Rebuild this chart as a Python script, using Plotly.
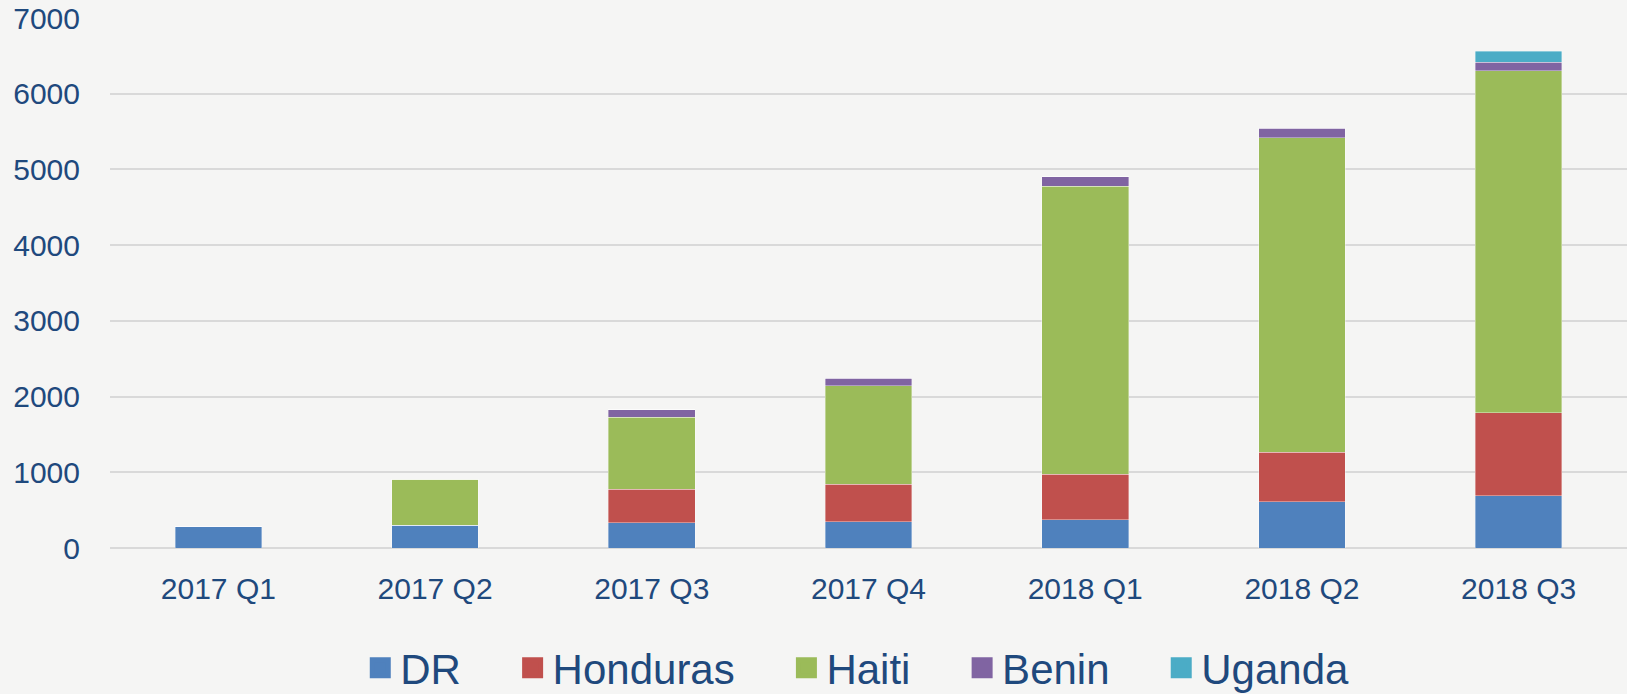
import plotly.graph_objects as go

categories = ["2017 Q1", "2017 Q2", "2017 Q3", "2017 Q4", "2018 Q1", "2018 Q2", "2018 Q3"]
dr = [290, 300, 335, 345, 375, 612, 690]
honduras = [0, 0, 440, 497, 600, 652, 1094]
haiti = [0, 605, 952, 1300, 3806, 4157, 4518]
benin = [0, 0, 97, 100, 124, 121, 112]
uganda = [0, 0, 0, 0, 0, 0, 147]

series_names = ["DR", "Honduras", "Haiti", "Benin", "Uganda"]
series_values = [dr, honduras, haiti, benin, uganda]
colors = ["#4F81BD", "#C0504D", "#9BBB59", "#8064A2", "#4BACC6"]

TEXT = "#1F497D"
FONT = "Liberation Sans, Arial, sans-serif"
PAD = "\u00a0" * 4

fig = go.Figure()
for name, vals, col in zip(series_names, series_values, colors):
    fig.add_trace(go.Bar(
        x=categories, y=vals, name=name,
        marker=dict(color=col, line=dict(width=0.6, color="rgba(255,255,255,0.6)")),
        showlegend=False, legendgroup=name,
    ))
for i, (name, col) in enumerate(zip(series_names, colors)):
    fig.add_trace(go.Scatter(
        x=[None], y=[None], mode="markers", name=name + (PAD if i < len(series_names) - 1 else ""),
        marker=dict(symbol="square", size=16, color=col, line=dict(width=5, color=col)),
        legendgroup=name, showlegend=True,
    ))

fig.update_layout(
    width=1627, height=694,
    barmode="stack", bargap=0.6,
    paper_bgcolor="#f5f5f4", plot_bgcolor="rgba(0,0,0,0)",
    margin=dict(l=110, r=0, t=18, b=146, autoexpand=False),
    font=dict(family=FONT, color=TEXT, size=30),
    xaxis=dict(showgrid=False, tickfont=dict(size=30, color=TEXT), ticks="", ticklabelstandoff=20,
               showline=False, zeroline=False),
    yaxis=dict(range=[0, 7000], dtick=1000, showgrid=True, gridcolor="#d9d9d9", gridwidth=1.5,
               zeroline=True, zerolinecolor="#d9d9d9", zerolinewidth=1.5,
               tickfont=dict(size=30, color=TEXT), ticklabelstandoff=29, showline=False),
    legend=dict(orientation="h", x=0.4926, xanchor="center", y=-0.2265, yanchor="middle",
                font=dict(size=42, color=TEXT, family=FONT), bgcolor="rgba(0,0,0,0)",
                itemsizing="trace"),
)

fig.write_html("out.html", config={"displayModeBar": False},
               post_script="document.body.style.margin='0px';document.body.style.background='#f5f5f4';")
